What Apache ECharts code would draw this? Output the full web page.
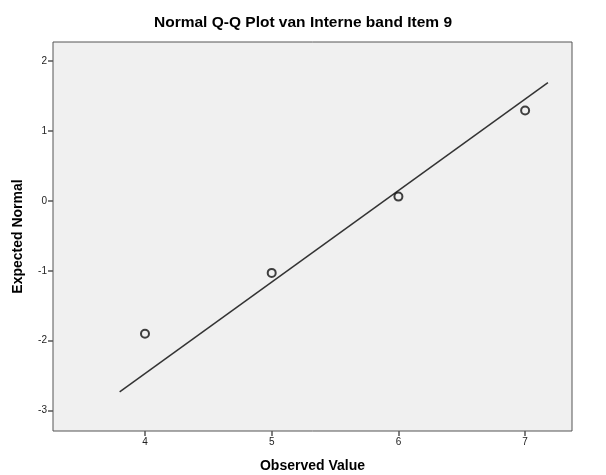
<!DOCTYPE html>
<html><head><meta charset="utf-8">
<script src="https://cdn.jsdelivr.net/npm/echarts@6/dist/echarts.min.js"></script>
<style>html,body{margin:0;padding:0;background:#fff}#c{width:606px;height:475px}</style>
</head><body><div id="c"></div>
<script>
var observed = [4, 5, 6, 7];
var expected = [-1.90, -1.03, 0.06, 1.29];
var lineX = [3.80, 7.18];
var lineY = [-2.73, 1.69];
var xTicks = [4, 5, 6, 7];
var yTicks = [-3, -2, -1, 0, 1, 2];

var pts = observed.map(function (v, i) { return [v, expected[i]]; });
var ln = lineX.map(function (v, i) { return [v, lineY[i]]; });
var font = 'Arial, "Liberation Sans", sans-serif';
var chart = echarts.init(document.getElementById('c'));
chart.setOption({
  animation: false,
  backgroundColor: '#fff',
  title: {text: 'Normal Q-Q Plot van Interne band Item 9', left: 'center', top: 10,
    textStyle: {fontFamily: font, fontSize: 15.5, fontWeight: 'bold', color: '#000'}},
  grid: {left: 53, top: 42, right: 34, bottom: 44, outerBoundsMode: 'none', containLabel: false,
    show: true, backgroundColor: '#f0f0f0', borderColor: '#555', borderWidth: 1},
  xAxis: {type: 'value', min: 3.274, max: 7.37, name: 'Observed Value', nameLocation: 'middle', nameGap: 28,
    nameTextStyle: {fontFamily: font, fontSize: 14, fontWeight: 'bold', color: '#000'},
    axisLine: {show: false, onZero: false}, splitLine: {show: false},
    axisTick: {show: true, length: 5, lineStyle: {color: '#555', width: 1.5}, customValues: xTicks},
    axisLabel: {fontFamily: font, fontSize: 10, color: '#222', margin: 6, customValues: xTicks}},
  yAxis: {type: 'value', min: -3.29, max: 2.27, name: 'Expected Normal', nameLocation: 'middle', nameGap: 28,
    nameTextStyle: {fontFamily: font, fontSize: 14, fontWeight: 'bold', color: '#000'},
    axisLine: {show: false, onZero: false}, splitLine: {show: false},
    axisTick: {show: true, length: 5, lineStyle: {color: '#555', width: 1.5}, customValues: yTicks},
    axisLabel: {fontFamily: font, fontSize: 10, color: '#222', margin: 6, customValues: yTicks}},
  series: [
    {type: 'line', data: ln, symbol: 'none', lineStyle: {color: '#333', width: 1.5}, z: 2},
    {type: 'scatter', data: pts, symbol: 'circle', symbolSize: 8,
      itemStyle: {color: 'rgba(0,0,0,0)', borderColor: '#111', borderWidth: 2}, z: 3}
  ]
});
</script></body></html>
